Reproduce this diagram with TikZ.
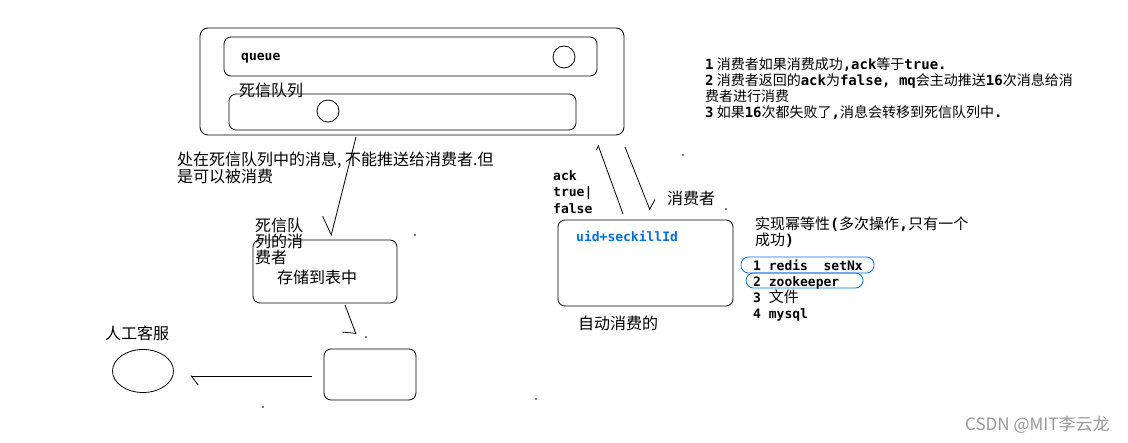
\documentclass[tikz,border=0pt]{standalone}
\usepackage{fontspec}
\setmainfont{Noto Sans CJK SC}
\newfontfamily\monob{DejaVu Sans Mono}
\usetikzlibrary{arrows.meta,calc,shapes.geometric}
\definecolor{inkblue}{RGB}{0,112,221}
\newcommand\mtxt[1]{{\monob\bfseries #1}}
\tikzset{
  box/.style={draw, line width=0.8pt, rounded corners=7pt, inner sep=0pt, outer sep=0pt},
  ring/.style={draw=inkblue, line width=0.8pt, rounded corners=7.5pt, inner sep=0pt, outer sep=0pt},
  msgdot/.style={draw, circle, line width=0.8pt, minimum size=22pt, inner sep=0pt},
  cjk/.style={font=\fontsize{16}{16}\selectfont, inner sep=0pt, align=left, anchor=west},
  note/.style={font=\fontsize{14}{16}\selectfont, inner sep=0pt, align=left, anchor=west},
  code/.style={font=\monob\bfseries\fontsize{13}{16.5}\selectfont, inner sep=0pt, align=left, anchor=west},
  flow/.style={line width=0.8pt},
}
\begin{document}
\begin{tikzpicture}[x=1pt, y=-1pt]
  \fill[white] (0,0) rectangle (1128,443);
  \useasboundingbox (0,0) rectangle (1128,443);

  \node[box, rounded corners=8pt, minimum width=424pt, minimum height=107pt] (broker) at (412,81.5) {};
  \node[box, minimum width=373pt, minimum height=39pt] (queue) at (410.5,56.5) {};
  \node[msgdot] (qmsg) at (564,57) {};
  \node[code] (qname) at (241,58) {queue};
  \node[box, minimum width=347pt, minimum height=36pt] (dlq) at (402.5,112) {};
  \node[msgdot] (dlmsg) at (328,111) {};
  \node[cjk] (dlname) at (239,90) {死信队列};

  \node[note] (rules) at (705,89)
    {\mtxt{1} 消费者如果消费成功\mtxt{,ack}等于\mtxt{true.}\\\mtxt{2} 消费者返回的\mtxt{ack}为\mtxt{false, mq}会主动推送\mtxt{16}次消息给消\\费者进行消费\\\mtxt{3} 如果\mtxt{16}次都失败了\mtxt{,}消息会转移到死信队列中\mtxt{.}};

  \node[cjk] (dlnote) at (177,168) {处在死信队列中的消息, 不能推送给消费者.但\\是可以被消费};

  \node[box, minimum width=144pt, minimum height=63pt] (store) at (325,271.5) {};
  \node[cjk] (dlcons) at (255,241) {死信队\\列的消\\费者};
  \node[cjk] (storetxt) at (277,277) {存储到表中};
  \node[box, minimum width=92pt, minimum height=51pt] (blank) at (370,374.5) {};
  \node[draw, ellipse, line width=0.8pt, minimum width=61pt, minimum height=43pt, inner sep=0pt] (agent) at (143,371) {};
  \node[cjk] (agenttxt) at (105,333) {人工客服};

  \node[box, minimum width=175pt, minimum height=86pt] (uidbox) at (645.5,263) {};
  \node[code, text=inkblue] (uidkey) at (576,236) {uid+seckillId};
  \node[cjk] (autotxt) at (578,323) {自动消费的};
  \node[code] (acktxt) at (553,192) {ack\\true|\\false};
  \node[cjk] (constxt) at (667,198) {消费者};
  \node[cjk, font=\fontsize{15}{16}\selectfont] (idem) at (755,232) {实现幂等性\mtxt{(}多次操作\mtxt{,}只有一个\\成功\mtxt{)}};
  \node[ring, minimum width=133pt, minimum height=16pt] (ringA) at (807.5,265) {};
  \node[ring, minimum width=117pt, minimum height=15pt] (ringB) at (804.5,280.5) {};
  \node[code, font=\monob\bfseries\fontsize{13}{16}\selectfont] (ways) at (753,291)
    {1 redis~~setNx\\2 zookeeper\\3 {\normalfont\fontsize{15}{16}\selectfont 文件}\\4 mysql};

  \draw[flow, -{Straight Barb[right, length=16pt, width=26pt]}] ($(broker.south)+(-56,2)$) -- ($(store.north)+(6,-4)$);
  \draw[flow, -{Straight Barb[right, length=6pt, width=24pt]}] ($(store.south)+(20,2)$) -- ($(blank.north)+(-14,-15)$);
  \draw[flow, -{Straight Barb[left, length=7pt, width=18pt]}] ($(blank.west)+(-12,1.5)$) -- ($(agent.east)+(16.5,5)$);
  \draw[flow, -{Straight Barb[left, length=3pt, width=6pt]}] ($(uidbox.north)+(-22.5,-6)$) -- ($(broker.south east)+(-26,10)$);
  \draw[flow, -{Straight Barb[left, length=7pt, width=17pt]}] ($(broker.south east)+(1,12)$) -- ($(uidbox.north)+(4.5,-10)$);

  \foreach \p in {(366,337),(263,407),(536,399),(415,235),(683,155),(726,209)}
    \fill \p circle (0.9pt);

  \node[font=\fontsize{17}{17}\selectfont, text=black!40, inner sep=0pt, anchor=west] (mark) at (965,425) {CSDN @MIT李云龙};
\end{tikzpicture}
\end{document}
